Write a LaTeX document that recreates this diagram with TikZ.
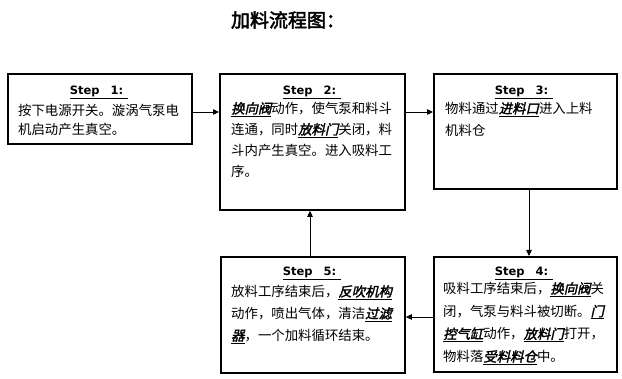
\documentclass[tikz,border=0pt]{standalone}
\usepackage{fontspec}
\usetikzlibrary{arrows.meta}
\newfontfamily\cjk{Noto Sans CJK SC}
\newfontfamily\cjkem[FakeSlant=0.22,FakeBold=2]{Noto Sans CJK SC}
\newfontfamily\cjkbf[FakeBold=2.5]{Noto Sans CJK SC}
\newfontfamily\stepfnt{DejaVu Sans}
\newcommand\kw[1]{\underline{\cjkem #1}}
\newcommand\steplbl[1]{\underline{Step\hspace{11pt}#1:\hspace{5pt}}}
\begin{document}
\begin{tikzpicture}[x=1pt,y=-1pt,
  box/.style={draw,line width=1.8pt,inner sep=0pt,anchor=north west},
  lbl/.style={font=\stepfnt\bfseries\fontsize{11.5}{13}\selectfont,inner sep=0pt},
  txt/.style={anchor=north west,inner sep=0pt,align=left},
  arr/.style={line width=0.8pt,-{Triangle[length=6pt,width=5.5pt]}}]
\useasboundingbox (0,0) rectangle (622,379);
% title
\node[font=\cjkbf\fontsize{19}{22}\selectfont,inner sep=0pt] (title) at (288,20) {加料流程图：};
% boxes
\node[box,minimum width=184pt,minimum height=70pt] (b1) at (7,73) {};
\node[box,minimum width=185pt,minimum height=136pt] (b2) at (219,73) {};
\node[box,minimum width=183pt,minimum height=115pt] (b3) at (433,73) {};
\node[box,minimum width=183pt,minimum height=115pt] (b4) at (433,256) {};
\node[box,minimum width=184pt,minimum height=116pt] (b5) at (220,256) {};
% step labels
\node[lbl] (s1) at (99,92) {\steplbl{1}};
\node[lbl] (s2) at (312,92) {\steplbl{2}};
\node[lbl] (s3) at (524,92) {\steplbl{3}};
\node[lbl] (s4) at (524,273) {\steplbl{4}};
\node[lbl] (s5) at (312,273) {\steplbl{5}};
% texts
\node[txt,font=\cjk\fontsize{13.4}{18.5}\selectfont] (t1) at (18,104)
  {按下电源开关。漩涡气泵电\\机启动产生真空。};
\node[txt,font=\cjk\fontsize{13.4}{21}\selectfont] (t2) at (231,102)
  {\kw{换向阀}动作，使气泵和料斗\\连通，同时\kw{放料门}关闭，料\\斗内产生真空。进入吸料工\\序。};
\node[txt,font=\cjk\fontsize{13.4}{22}\selectfont] (t3) at (445,102)
  {物料通过\kw{进料口}进入上料\\机料仓};
\node[txt,font=\cjk\fontsize{13.4}{22.7}\selectfont] (t4) at (443,282)
  {吸料工序结束后，\kw{换向阀}关\\闭，气泵与料斗被切断。\kw{门}\\\kw{控气缸}动作，\kw{放料门}打开，\\物料落\kw{受料料仓}中。};
\node[txt,font=\cjk\fontsize{13.4}{22}\selectfont] (t5) at (231,285)
  {放料工序结束后，\kw{反吹机构}\\动作，喷出气体，清洁\kw{过滤}\\\kw{器}，一个加料循环结束。};
% connectors
\coordinate (row1) at (0,112);
\coordinate (row2) at (0,317);
\coordinate (col3) at (529,0);
\coordinate (col5) at (310,0);
\draw[arr] (b1.east |- row1) -- (b2.west |- row1);
\draw[arr] (b2.east |- row1) -- (b3.west |- row1);
\draw[arr] (b3.south -| col3) -- (b4.north -| col3);
\draw[arr] (b4.west |- row2) -- (b5.east |- row2);
\draw[arr] (b5.north -| col5) -- (b2.south -| col5);
\end{tikzpicture}
\end{document}
